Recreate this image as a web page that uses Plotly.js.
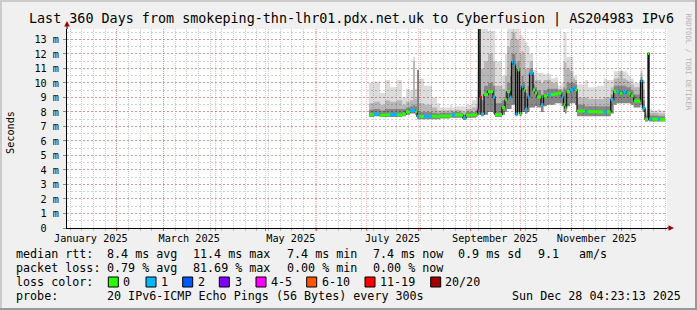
<!DOCTYPE html>
<html><head><meta charset="utf-8">
<script src="https://cdn.plot.ly/plotly-3.0.1.min.js"></script>
<style>html,body{margin:0;padding:0;background:#f0f0f0;}#chart{width:697px;height:310px;}</style>
</head><body><div id="chart"></div>
<script>
// ---------------- data ----------------
const times = ['2025-07-02 10:00','2025-07-05 10:00','2025-07-09 00:00','2025-07-12 00:00','2025-07-15 00:00','2025-07-19 05:00','2025-07-22 05:00','2025-07-24 14:00','2025-07-27 00:00','2025-07-28 19:00',
'2025-07-30 00:00','2025-07-31 05:00','2025-08-01 10:00','2025-08-04 10:00','2025-08-09 05:00','2025-08-12 05:00','2025-08-14 00:00','2025-08-20 00:00','2025-08-21 05:00','2025-08-23 00:00',
'2025-08-26 00:00','2025-08-27 19:00','2025-08-29 14:00','2025-09-02 05:00','2025-09-04 14:00','2025-09-05 12:00','2025-09-06 02:00','2025-09-07 00:00','2025-09-07 14:00','2025-09-09 10:00',
'2025-09-11 19:00','2025-09-14 19:00','2025-09-16 00:00','2025-09-20 05:00','2025-09-22 00:00','2025-09-23 05:00','2025-09-25 00:00','2025-09-25 22:00','2025-09-27 02:00','2025-09-28 07:00',
'2025-09-29 12:00','2025-09-30 17:00','2025-10-01 22:00','2025-10-03 02:00','2025-10-04 00:00','2025-10-05 12:00','2025-10-06 17:00','2025-10-07 22:00','2025-10-08 19:00','2025-10-10 00:00',
'2025-10-11 05:00','2025-10-13 14:00','2025-10-15 02:00','2025-10-17 05:00','2025-10-18 02:00','2025-10-19 14:00','2025-10-22 00:00','2025-10-23 19:00','2025-10-25 22:00','2025-10-27 02:00',
'2025-10-28 00:00','2025-10-28 22:00','2025-10-31 00:00','2025-11-02 00:00','2025-11-03 00:00','2025-11-04 05:00','2025-11-09 00:00','2025-11-10 19:00','2025-11-16 05:00','2025-11-20 05:00',
'2025-11-22 00:00','2025-11-24 10:00','2025-11-26 05:00','2025-11-28 00:00','2025-11-29 19:00','2025-12-01 14:00','2025-12-03 17:00','2025-12-04 22:00','2025-12-06 10:00','2025-12-08 05:00',
'2025-12-12 07:00','2025-12-13 12:00','2025-12-15 00:00','2025-12-16 19:00','2025-12-17 10:00','2025-12-19 05:00','2025-12-22 19:00','2025-12-24 00:00','2025-12-27 00:00'];

// median rtt in ms
const median = [7.81,7.85,7.78,7.8,7.82,7.8,7.85,8.0,8.1,8.1,
 8.0,7.69,7.69,7.69,7.7,7.68,7.72,7.75,7.8,7.8,
 7.78,7.58,7.78,7.8,7.85,8.15,14.5,9.06,7.86,9.2,
 9.4,9.04,7.81,8.3,8.84,9.4,9.04,11.46,11.3,7.86,
 10.9,7.9,9.75,9.5,8.2,9.04,10.66,10.7,9.52,9.3,
 9.04,8.5,9.1,9.18,9.18,9.2,9.25,9.3,9.04,8.5,
 8.27,9.4,9.52,9.63,9.52,8.06,8.0,8.02,8.0,8.0,
 8.0,8.84,9.4,9.4,9.3,9.4,9.3,9.3,9.1,8.75,
 10.16,8.27,7.51,12.03,7.51,7.51,7.5,7.48,7.48];

// loss class index (0:'0', 1:'1', 2:'2', 3:'3', 4:'4-5', 5:'6-10', 6:'11-19', 7:'20/20')
const loss = [0,1,0,0,1,0,0,0,1,1,
 0,1,0,1,0,0,0,0,1,0,
 0,1,0,0,0,4,0,6,1,0,
 0,1,0,0,0,0,1,1,1,1,
 0,0,1,0,1,1,1,1,0,0,
 0,1,0,0,1,0,0,0,1,0,
 0,0,1,1,0,0,1,0,0,1,
 0,1,0,1,0,1,1,0,0,0,
 1,1,0,0,1,0,1,0,0];

// smoke (ping spread) levels in ms
const smokeLo = [7.65,7.7,7.65,7.65,7.65,7.65,7.7,7.8,7.9,7.9,
 7.8,7.5,7.5,7.5,7.5,7.5,7.55,7.6,7.6,7.6,
 7.6,7.45,7.6,7.6,7.65,7.8,7.8,7.8,7.7,7.8,
 8.0,7.9,7.65,7.8,8.0,8.2,8.2,8.5,8.5,7.7,
 8.0,7.7,8.0,8.0,7.9,8.0,8.3,8.3,8.3,8.4,
 8.3,8.0,8.4,8.5,8.5,8.5,8.6,8.6,8.4,8.0,
 7.9,8.4,8.6,8.6,8.5,7.7,7.7,7.7,7.7,7.7,
 7.7,7.9,8.5,8.6,8.6,8.6,8.6,8.6,8.5,8.3,
 8.5,8.0,7.35,7.4,7.35,7.35,7.35,7.35,7.35];
const smokeDark = [8.15,8.2,8.1,8.2,8.2,8.2,8.2,8.3,8.4,8.5,
 8.4,10.9,8.0,8.0,7.95,7.9,7.95,7.95,8.0,8.0,
 7.95,7.8,8.0,8.0,8.1,8.6,9.5,9.5,8.8,9.8,
 10.0,9.8,8.6,8.8,9.4,10.0,10.5,12.0,12.0,11.0,
 11.5,9.5,10.5,10.0,9.3,9.8,11.0,11.0,9.9,9.7,
 9.5,9.2,9.5,9.6,9.6,9.6,9.6,9.5,9.4,9.7,
 9.6,10.0,10.0,10.0,9.9,8.5,8.4,8.4,8.4,8.4,
 8.4,9.2,9.8,9.8,9.8,9.8,9.7,9.7,9.5,9.2,
 10.4,8.8,7.75,7.8,7.75,7.75,7.72,7.7,7.7];
const smokeMid = [8.6,8.7,8.5,8.8,8.7,8.8,8.5,8.7,8.8,11.5,
 8.9,10.9,8.6,8.5,8.3,8.1,8.1,8.15,8.1,8.15,
 8.1,8.0,8.2,8.3,8.4,9.5,12.5,12.0,11.0,11.5,
 12.0,11.5,9.8,9.6,10.5,12.5,13.0,13.5,13.5,13.0,
 13.0,12.0,12.2,12.0,11.0,11.0,11.5,11.5,10.5,10.2,
 10.2,10.0,10.2,10.2,10.2,10.0,10.0,9.6,9.6,11.5,
 11.4,11.0,10.8,10.3,10.2,9.0,9.0,8.9,8.9,9.0,
 9.0,9.7,10.3,10.3,10.8,10.3,10.2,10.1,9.9,9.7,
 10.7,9.5,7.95,8.0,7.95,7.95,7.9,7.9,7.9];
const smokeHi = [10.0,10.1,9.3,10.2,9.7,10.2,9.0,9.6,9.5,11.8,
 9.6,10.9,10.3,9.8,9.0,8.6,8.3,8.5,8.3,8.4,
 8.4,8.4,8.5,8.8,9.0,10.8,14.0,14.0,14.0,14.0,
 13.6,13.6,11.5,10.5,12.0,13.7,13.8,13.8,13.8,13.8,
 13.8,13.3,13.2,13.0,12.8,12.5,12.0,12.0,10.9,10.9,
 10.7,10.7,10.6,10.7,10.6,10.3,10.4,9.8,10.0,13.5,
 13.5,11.8,11.8,10.5,10.5,9.9,10.2,9.7,9.8,10.3,
 10.2,10.2,10.8,10.8,10.9,10.8,10.7,10.5,10.3,10.0,
 10.9,10.2,8.2,8.2,8.2,8.1,8.2,8.1,8.1];

const lossLabels = ['0','1','2','3','4-5','6-10','11-19','20/20'];
const lossColors = ['#26ff00','#00b8ff','#0059ff','#7e00ff','#ff00ff','#ff5500','#ff0000','#a10000'];

const yTickVals = [0,1,2,3,4,5,6,7,8,9,10,11,12,13];
const yTickText = ['0\u00a0\u00a0','1 m','2 m','3 m','4 m','5 m','6 m','7 m','8 m','9 m','10 m','11 m','12 m','13 m'];
const monthStarts = ['2025-02-01','2025-03-01','2025-04-01','2025-05-01','2025-06-01','2025-07-01','2025-08-01','2025-09-01','2025-10-01','2025-11-01','2025-12-01'];
const monthLabelDates = ['2025-01-16 12:00','2025-03-16 12:00','2025-05-16 12:00','2025-07-16 12:00','2025-09-16 00:00','2025-11-16 00:00'];
const monthLabels = ['January 2025','March 2025','May 2025','July 2025','September 2025','November 2025'];
const rangeStart = '2025-01-02 04:23:13';
const rangeEnd = '2025-12-28 04:23:13';

const titleText = 'Last 360 Days from smokeping-thn-lhr01.pdx.net.uk to Cyberfusion | AS204983 IPv6';
const rttLine = ['median rtt:','8.4 ms avg','11.4 ms max','7.4 ms min','7.4 ms now','0.9 ms sd','9.1','am/s'];
const lossLine = ['packet loss:','0.79 % avg','81.69 % max','0.00 % min','0.00 % now'];
const lossColorLabel = 'loss color:';
const probeLine = ['probe:','20 IPv6-ICMP Echo Pings (56 Bytes) every 300s','Sun Dec 28 04:23:13 2025'];

// ---------------- layout helpers ----------------
const PL=67, PW=600, PT=29, PB=228, PH=PB-PT;
const X = px => (px-PL)/PW;
const Y = py => (PB-py)/PH;
const MONO = 'DejaVu Sans Mono, monospace';

// ---------------- traces ----------------
const traces = [];
function band(top, color){
  traces.push({x:times, y:smokeLo, mode:'lines', line:{width:0, shape:'hv'}, hoverinfo:'skip'});
  traces.push({x:times, y:top, mode:'lines', line:{width:0, shape:'hv'}, fill:'tonexty', fillcolor:color, hoverinfo:'skip'});
}
band(smokeHi, 'rgba(0,0,0,0.137)');
band(smokeMid, 'rgba(0,0,0,0.163)');
band(smokeDark, 'rgba(0,0,0,0.262)');
traces.push({x:times, y:median, mode:'lines', line:{color:'#111', width:1.3, shape:'hv'}, hoverinfo:'skip'});
for (let k=0;k<lossColors.length;k++){
  const sx=[], sy=[];
  for (let i=0;i<times.length-1;i++){
    if (loss[i]===k){ sx.push(times[i], times[i+1], null); sy.push(median[i], median[i], null); }
  }
  traces.push({x:sx, y:sy, mode:'lines', line:{color:lossColors[k], width:3}, connectgaps:false, hoverinfo:'skip'});
}
traces.push({x:[rangeStart, rangeEnd], y:[null,null], xaxis:'x2', yaxis:'y', mode:'lines', hoverinfo:'skip'});

// ---------------- annotations ----------------
const annotations = [];
function txt(px, py, text, opt){
  annotations.push(Object.assign({xref:'paper', yref:'paper', x:X(px), y:Y(py), text:text, showarrow:false,
    xanchor:'left', yanchor:'middle', borderpad:0, font:{family:MONO, size:11.7, color:'#000'}}, opt||{}));
}
const colX = [16,107.3,193.3,286.7,372.7,458.3,537.7,579.3];
rttLine.forEach((t,i)=>txt(colX[i]-1, 254, t));
lossLine.forEach((t,i)=>txt(colX[i]-1, 268, t));
txt(15, 282, lossColorLabel);
txt(15, 296, probeLine[0]);
txt(106.3, 296, probeLine[1]);
txt(682, 296, probeLine[2], {xanchor:'right'});
txt(10, 133, 'Seconds', {xanchor:'center', textangle:-90, font:{family:MONO, size:10.2, color:'#000'}});
txt(688, 61.5, 'RRDTOOL / TOBI OETIKER', {xanchor:'center', textangle:90, font:{family:MONO, size:7.3, color:'#b4b4b4'}});
txt(28, 19.5, titleText, {font:{family:MONO, size:13.4, color:'#000'}});

const shapes = [];
const sqX = [108.3,146,182.7,219.3,256,306.7,365,430.7];
const labX = [123,161,198,235,271,322,380,445];
lossLabels.forEach((lab,i)=>{
  shapes.push({type:'rect', xref:'paper', yref:'paper', x0:X(sqX[i]), x1:X(sqX[i]+10), y0:Y(287), y1:Y(277), fillcolor:lossColors[i], line:{color:'#000', width:1}});
  txt(labX[i]-1, 282, lab);
});
// axis extensions + arrows
shapes.push({type:'line', xref:'paper', yref:'paper', x0:0, x1:0, y0:1, y1:Y(24), line:{color:'#000', width:1}});
shapes.push({type:'path', xref:'paper', yref:'paper', path:`M ${X(67)} ${Y(21)} L ${X(64.2)} ${Y(26.5)} L ${X(69.8)} ${Y(26.5)} Z`, fillcolor:'#a00000', line:{width:0}});
shapes.push({type:'line', xref:'paper', yref:'paper', x0:1, x1:X(671), y0:0, y1:0, line:{color:'#000', width:1}});
shapes.push({type:'path', xref:'paper', yref:'paper', path:`M ${X(674)} ${Y(228)} L ${X(668.5)} ${Y(225.2)} L ${X(668.5)} ${Y(230.8)} Z`, fillcolor:'#a00000', line:{width:0}});
// frame shading
shapes.push({type:'rect', xref:'paper', yref:'paper', x0:X(0), x1:X(697), y0:Y(0), y1:Y(2), fillcolor:'#cbcbcb', line:{width:0}});
shapes.push({type:'rect', xref:'paper', yref:'paper', x0:X(0), x1:X(2), y0:Y(0), y1:Y(310), fillcolor:'#cbcbcb', line:{width:0}});
shapes.push({type:'rect', xref:'paper', yref:'paper', x0:X(695), x1:X(697), y0:Y(0), y1:Y(310), fillcolor:'#999999', line:{width:0}});
shapes.push({type:'rect', xref:'paper', yref:'paper', x0:X(0), x1:X(697), y0:Y(308), y1:Y(310), fillcolor:'#999999', line:{width:0}});

const layout = {
  width:697, height:310,
  margin:{l:PL, r:697-PL-PW, t:PT, b:310-PB, pad:0},
  paper_bgcolor:'#f0f0f0', plot_bgcolor:'#ffffff',
  showlegend:false,
  font:{family:MONO, size:10.2, color:'#000'},
  xaxis:{type:'date', range:[rangeStart, rangeEnd], tickmode:'array', tickvals:monthStarts, showticklabels:false,
    showgrid:true, gridcolor:'rgba(255,0,0,0.28)', griddash:'1px,1px', gridwidth:1,
    ticks:'outside', ticklen:2, tickcolor:'rgba(255,0,0,0.6)', showline:true, linecolor:'#000', linewidth:1, zeroline:false, fixedrange:true,
    minor:{tickmode:'linear', tick0:'2025-01-04', dtick:7*86400000, showgrid:true, gridcolor:'#cccccc', griddash:'1px,1px', ticks:'outside', ticklen:2, tickcolor:'#bbbbbb'}},
  xaxis2:{type:'date', overlaying:'x', anchor:'y', side:'bottom', range:[rangeStart, rangeEnd], tickmode:'array', tickvals:monthLabelDates, ticktext:monthLabels,
    showgrid:false, ticks:'', showline:false, zeroline:false, fixedrange:true, tickfont:{family:MONO, size:10.2, color:'#000'}, ticklabelstandoff:3},
  yaxis:{range:[0,13.72], tickmode:'array', tickvals:yTickVals, ticktext:yTickText, showgrid:true, gridcolor:'rgba(255,0,0,0.28)', griddash:'2px,2px',
    minor:{tickmode:'linear', tick0:0, dtick:0.5, showgrid:true, gridcolor:'#d2d2d2', griddash:'2px,2px'},
    showline:true, linecolor:'#000', linewidth:1, ticks:'outside', ticklen:3, tickcolor:'#888', zeroline:false, fixedrange:true,
    tickfont:{family:MONO, size:10.2, color:'#000'}, ticklabelstandoff:2},
  annotations:annotations,
  shapes:shapes
};
Plotly.newPlot('chart', traces, layout, {displayModeBar:false, staticPlot:true});
</script></body></html>
